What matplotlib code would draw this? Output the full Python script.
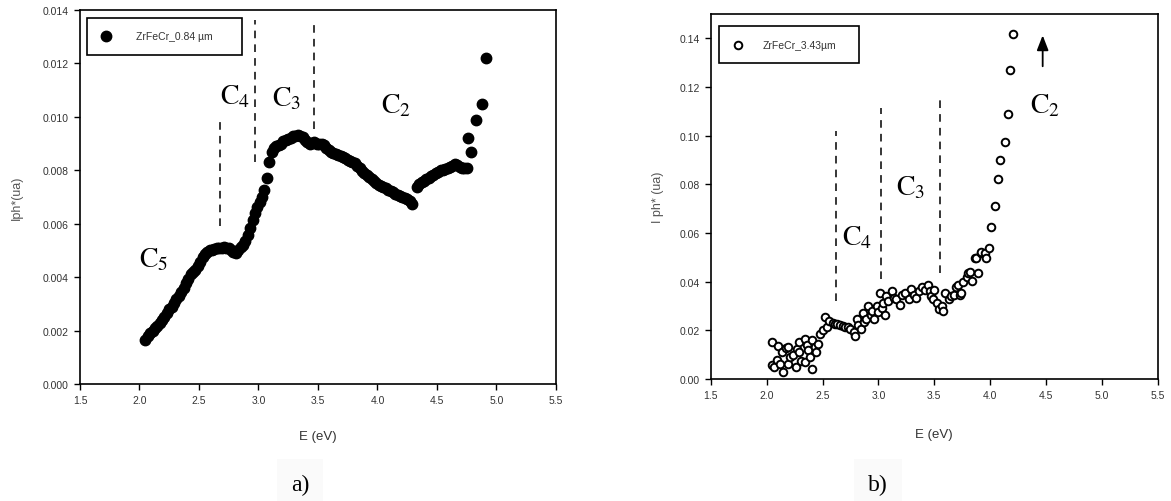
import numpy as np
import matplotlib
matplotlib.use("Agg")
import matplotlib.pyplot as plt

plt.rcParams['font.family'] = ['Liberation Sans', 'DejaVu Sans']
plt.rcParams['mathtext.fontset'] = 'stix'

# ---- a) ZrFeCr 0.84 um ----
e_a = [2.05, 2.07, 2.09, 2.11, 2.13, 2.15, 2.17, 2.19, 2.21, 2.23, 2.25, 2.27, 2.29, 2.31, 2.33,
       2.35, 2.37, 2.39, 2.41, 2.43, 2.45, 2.47, 2.49, 2.51, 2.53, 2.55, 2.57, 2.59, 2.61, 2.63,
       2.65, 2.67, 2.69, 2.71, 2.73, 2.75, 2.77, 2.79, 2.81, 2.83, 2.85, 2.87, 2.89, 2.91, 2.93,
       2.95, 2.97, 2.99, 3.01, 3.03, 3.05, 3.07, 3.09, 3.11, 3.13, 3.15, 3.17, 3.19, 3.21, 3.23,
       3.25, 3.27, 3.29, 3.31, 3.33, 3.35, 3.37, 3.39, 3.41, 3.43, 3.45, 3.47, 3.49, 3.51, 3.53,
       3.55, 3.57, 3.59, 3.61, 3.63, 3.65, 3.67, 3.69, 3.71, 3.73, 3.75, 3.77, 3.79, 3.81, 3.83,
       3.85, 3.87, 3.89, 3.91, 3.93, 3.95, 3.97, 3.99, 4.01, 4.03, 4.05, 4.07, 4.09, 4.11, 4.13,
       4.15, 4.17, 4.19, 4.21, 4.23, 4.25, 4.27, 4.29,
       4.33, 4.35, 4.37, 4.39, 4.41, 4.43, 4.45, 4.47, 4.49, 4.51, 4.53, 4.55, 4.57, 4.59, 4.61,
       4.63, 4.65, 4.67, 4.69, 4.71, 4.73, 4.75,
       4.76, 4.79, 4.83, 4.88, 4.91]
i_a = [0.00165, 0.00180, 0.00192, 0.00200, 0.00210, 0.00218, 0.00228, 0.00240, 0.00252, 0.00265,
       0.00280, 0.00290, 0.00305, 0.00318, 0.00330, 0.00345, 0.00360, 0.00378, 0.00395, 0.00412,
       0.00420, 0.00428, 0.00440, 0.00458, 0.00475, 0.00488, 0.00495, 0.00500, 0.00503, 0.00506,
       0.00508, 0.00510, 0.00510, 0.00512, 0.00511, 0.00510, 0.00502, 0.00495, 0.00490, 0.00500,
       0.00512, 0.00520, 0.00535, 0.00558, 0.00585, 0.00615, 0.00640, 0.00662, 0.00680, 0.00700,
       0.00725, 0.00770, 0.00830, 0.00870, 0.00882, 0.00890, 0.00895, 0.00900, 0.00908, 0.00912,
       0.00918, 0.00922, 0.00928, 0.00930, 0.00932, 0.00930, 0.00925, 0.00915, 0.00905, 0.00900,
       0.00902, 0.00905, 0.00900, 0.00898, 0.00900, 0.00895, 0.00885, 0.00875, 0.00868, 0.00865,
       0.00862, 0.00858, 0.00855, 0.00850, 0.00845, 0.00840, 0.00836, 0.00832, 0.00826, 0.00818,
       0.00808, 0.00798, 0.00790, 0.00782, 0.00775, 0.00768, 0.00760, 0.00752, 0.00746, 0.00742,
       0.00738, 0.00732, 0.00726, 0.00722, 0.00718, 0.00712, 0.00708, 0.00704, 0.00700, 0.00697,
       0.00692, 0.00685, 0.00675,
       0.00738, 0.00748, 0.00755, 0.00760, 0.00766, 0.00772, 0.00778, 0.00784, 0.00790, 0.00795,
       0.00800, 0.00803, 0.00806, 0.00810, 0.00813, 0.00818, 0.00822, 0.00820, 0.00812, 0.00810,
       0.00810, 0.00808,
       0.00920, 0.00870, 0.00990, 0.01050, 0.01220]

# ---- b) ZrFeCr 3.43 um ----
e_b = [2.05, 2.05, 2.07, 2.09, 2.10, 2.12, 2.14, 2.15, 2.17, 2.19, 2.19, 2.21, 2.24, 2.26, 2.27,
       2.29, 2.29, 2.31, 2.34, 2.34, 2.36, 2.37, 2.39, 2.41, 2.41, 2.43, 2.44, 2.46, 2.48, 2.50,
       2.52, 2.54, 2.56, 2.59, 2.61, 2.63, 2.66, 2.68, 2.70, 2.73, 2.75, 2.78, 2.79, 2.81, 2.82,
       2.84, 2.86, 2.87, 2.89, 2.91, 2.93, 2.94, 2.96, 2.99, 3.00, 3.01, 3.03, 3.04, 3.06, 3.07,
       3.09, 3.12, 3.14, 3.16, 3.19, 3.21, 3.24, 3.27, 3.29, 3.32, 3.34, 3.36, 3.39, 3.42, 3.44,
       3.46, 3.47, 3.49, 3.50, 3.52, 3.54, 3.57, 3.58, 3.60, 3.63, 3.65, 3.68, 3.69, 3.71, 3.73,
       3.74, 3.76, 3.79, 3.80, 3.82, 3.84, 3.86, 3.87, 3.89, 3.92, 3.92, 3.95, 3.96, 3.99, 4.01,
       4.045, 4.07, 4.09, 4.13, 4.157, 4.18, 4.207]
i_b = [0.0151, 0.0057, 0.0048, 0.0080, 0.0137, 0.0062, 0.0110, 0.0030, 0.0128, 0.0131, 0.0063,
       0.0090, 0.0097, 0.0050, 0.0125, 0.0151, 0.0110, 0.0075, 0.0165, 0.0070, 0.0140, 0.0118,
       0.0090, 0.0160, 0.0043, 0.0130, 0.0110, 0.0145, 0.0185, 0.0200, 0.0253, 0.0212, 0.0240,
       0.0232, 0.0228, 0.0225, 0.0222, 0.0219, 0.0215, 0.0212, 0.0205, 0.0192, 0.0178, 0.0246,
       0.0220, 0.0205, 0.0273, 0.0235, 0.0246, 0.0300, 0.0265, 0.0280, 0.0248, 0.0300, 0.0275,
       0.0354, 0.0290, 0.0314, 0.0265, 0.0340, 0.0320, 0.0360, 0.0335, 0.0327, 0.0306, 0.0347,
       0.0354, 0.0327, 0.0368, 0.0347, 0.0335, 0.0360, 0.0380, 0.0367, 0.0388, 0.0360, 0.0340,
       0.0327, 0.0367, 0.0314, 0.0287, 0.0300, 0.0280, 0.0354, 0.0327, 0.0340, 0.0347, 0.0380,
       0.0388, 0.0347, 0.0354, 0.0400, 0.0420, 0.0436, 0.0438, 0.0402, 0.0496, 0.0497, 0.0436,
       0.0517, 0.0523, 0.0517, 0.0496, 0.0537, 0.0625, 0.0710, 0.0821, 0.0902, 0.0974, 0.1090,
       0.1270, 0.1416]

x_ticks = [1.5, 2.0, 2.5, 3.0, 3.5, 4.0, 4.5, 5.0, 5.5]
y_ticks_a = [0.000, 0.002, 0.004, 0.006, 0.008, 0.010, 0.012, 0.014]
y_ticks_b = [0.00, 0.02, 0.04, 0.06, 0.08, 0.10, 0.12, 0.14]

# frontières en pointillés (E, y bas, y haut)
lim_a = [(2.68, 0.00593, 0.01004), (2.97, 0.0083, 0.01364), (3.47, 0.00953, 0.01364)]
lim_b = [(2.62, 0.032, 0.102), (3.02, 0.041, 0.1115), (3.55, 0.0436, 0.1146)]
# étiquettes C_n (texte, E, y)
lab_a = [(r'$\mathrm{C}_5$', 2.12, 0.00467), (r'$\mathrm{C}_4$', 2.80, 0.01079),
         (r'$\mathrm{C}_3$', 3.24, 0.01071), (r'$\mathrm{C}_2$', 4.16, 0.01045)]
lab_b = [(r'$\mathrm{C}_4$', 2.81, 0.0584), (r'$\mathrm{C}_3$', 3.29, 0.0787),
         (r'$\mathrm{C}_2$', 4.49, 0.1124)]


def ejes(ax, ymax, yticks, fmt):
    ax.set_xlim(1.5, 5.5)
    ax.set_ylim(0, ymax)
    ax.set_xticks(x_ticks)
    ax.set_xticklabels(['%.1f' % t for t in x_ticks])
    ax.set_yticks(yticks)
    ax.set_yticklabels([fmt % t for t in yticks])
    ax.tick_params(direction='out', length=4, width=1, labelsize=7.5, labelcolor='#333333',
                   top=False, right=False, pad=4)
    for s in ax.spines.values():
        s.set_linewidth(1.2)


fig = plt.figure(figsize=(11.71, 5.02), dpi=100)
axa = fig.add_axes([0.0683, 0.233, 0.4065, 0.745])
axb = fig.add_axes([0.607, 0.243, 0.3817, 0.727])

# panel a
axa.plot(e_a, i_a, 'o', color='black', ms=7.5, label='ZrFeCr_0.84 µm')
for e, y0, y1 in lim_a:
    axa.plot([e, e], [y0, y1], color='black', lw=1.1, dashes=(5, 4))
for t, e, y in lab_a:
    axa.text(e, y, t, fontsize=20, ha='center', va='center')
ejes(axa, 0.014, y_ticks_a, '%.3f')
axa.set_xlabel('E (eV)', fontsize=9.5, color='#333333')
axa.xaxis.set_label_coords(0.5, -0.122)
axa.set_ylabel('Iph*(ua)', fontsize=9, color='#555555')
axa.yaxis.set_label_coords(-0.12, 0.5)
axa.legend(loc='upper left', bbox_to_anchor=(0.015, 0.877, 0.325, 0.102), mode='expand',
           fontsize=7.5, frameon=True, fancybox=False, edgecolor='black', framealpha=1,
           borderpad=1.3, handlelength=1, handletextpad=2.4, borderaxespad=0,
           labelcolor='#333333').get_frame().set_linewidth(1.2)

# panel b
axb.scatter(e_b, i_b, s=30, facecolors='white', edgecolors='black', linewidths=1.4,
            label='ZrFeCr_3.43µm', zorder=3)
for e, y0, y1 in lim_b:
    axb.plot([e, e], [y0, y1], color='black', lw=1.1, dashes=(5, 4))
for t, e, y in lab_b:
    axb.text(e, y, t, fontsize=20, ha='center', va='center')
axb.annotate('', xy=(4.47, 0.1424), xytext=(4.47, 0.1274),
             arrowprops=dict(arrowstyle='-|>,head_width=0.35,head_length=0.9', color='black', lw=1.3))
ejes(axb, 0.15, y_ticks_b, '%.2f')
axb.set_xlabel('E (eV)', fontsize=9.5, color='#333333')
axb.xaxis.set_label_coords(0.5, -0.135)
axb.set_ylabel('I ph* (ua)', fontsize=9, color='#555555')
axb.yaxis.set_label_coords(-0.105, 0.5)
axb.legend(loc='upper left', bbox_to_anchor=(0.018, 0.863, 0.313, 0.104), mode='expand',
           fontsize=7.5, frameon=True, fancybox=False, edgecolor='black', framealpha=1,
           borderpad=1.3, handlelength=1, handletextpad=1.9, borderaxespad=0,
           labelcolor='#333333').get_frame().set_linewidth(1.2)

# légendes a) b)
fig.text(300 / 1171, 1 - 485 / 502, 'a)', fontsize=17, family='Liberation Serif',
         ha='center', va='center',
         bbox=dict(boxstyle='square,pad=0.6', fc='#fafafa', ec='none'))
fig.text(878 / 1171, 1 - 485 / 502, 'b)', fontsize=17, family='Liberation Serif',
         ha='center', va='center',
         bbox=dict(boxstyle='square,pad=0.6', fc='#fafafa', ec='none'))

fig.savefig('out.png', dpi=100)
